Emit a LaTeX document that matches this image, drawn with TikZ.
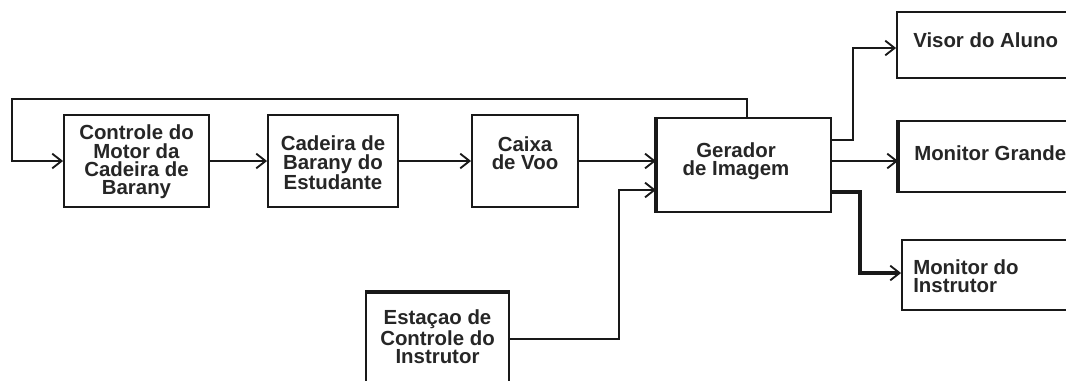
\documentclass[tikz,border=0pt]{standalone}
\usepackage{fontspec}
\setmainfont{Liberation Sans}
\usetikzlibrary{arrows.meta}
\begin{document}
\begin{tikzpicture}[x=0.75pt,y=-0.75pt,
  box/.style={draw=black!90,line width=1.4pt,rectangle,inner sep=0pt},
  lbl/.style={inner sep=0pt,font=\fontsize{15.3}{13.8}\selectfont\bfseries,text=black!85},
  conn/.style={draw=black!90,line width=1.4pt,-{Straight Barb[length=7pt,width=11pt,line width=1.4pt]}},
  thickedge/.style={draw=black!90,line width=2.4pt}]
\useasboundingbox (0,0) rectangle (1066,380);
% boxes
\node[box,minimum width={145*0.75pt},minimum height={92*0.75pt}] (b1) at (136.5,161) {};
\node[lbl,align=center] (b1t) at (136.5,162) {Controle do\\Motor da\\Cadeira de\\Barany};
\node[box,minimum width={130*0.75pt},minimum height={92*0.75pt}] (b2) at (333,161) {};
\node[lbl,align=center] (b2t) at (333,163) {Cadeira de\\Barany do\\Estudante};
\node[box,minimum width={106*0.75pt},minimum height={92*0.75pt}] (b3) at (525,161) {};
\node[lbl,align=center] (b3t) at (525,153) {Caixa\\de Voo};
\node[box,line width=1.7pt,minimum width={174*0.75pt},minimum height={94*0.75pt}] (gen) at (744,165) {};
\node[lbl,align=center] (gent) at (736,161) {Gerador\\de Imagem};
\node[box,minimum width={220*0.75pt},minimum height={66*0.75pt}] (visor) at (1007,45) {};
\node[lbl,anchor=west] (visort) at (913,40) {Visor do Aluno};
\node[box,minimum width={220*0.75pt},minimum height={71*0.75pt}] (mgr) at (1009,156.5) {};
\node[lbl,anchor=west] (mgrt) at (914,153) {Monitor Grande};
\node[box,minimum width={220*0.75pt},minimum height={70*0.75pt}] (minst) at (1012,275) {};
\node[lbl,anchor=west,align=left] (minstt) at (913,276) {Monitor do\\Instrutor};
\node[box,minimum width={143*0.75pt},minimum height={102*0.75pt}] (est) at (437.5,344) {};
\node[lbl,align=center] (estt) at (437.5,337) {Estaçao de\\Controle do\\Instrutor};
% thicker edges
\draw[thickedge] (gen.north west) -- (gen.south west);
\draw[thickedge] (mgr.north west) -- (mgr.south west);
\draw[thickedge] (est.north west) -- (est.north east);
% coordinates
\coordinate (fbT) at (747,99);
\coordinate (fbL) at (12,99);
\coordinate (ejA) at (619,339);
\coordinate (ejB) at (619,190);
\coordinate (v1) at (853,140);
\coordinate (v2) at (853,48);
\coordinate (m1) at (860,161);
\coordinate (i1) at (860,192);
\coordinate (i2) at (860,273);
% connectors
\draw[conn] (gen.north -| fbT) -- (fbT) -- (fbL) |- (b1.west);
\draw[conn] (b1.east) -- (b1.east -| b2.west);
\draw[conn] (b2.east) -- (b2.east -| b3.west);
\draw[conn] (b3.east |- m1) -- (m1 -| gen.west);
\draw[conn] (est.east |- ejA) -- (ejA) -- (ejB) -- (ejB -| gen.west);
\draw[conn] (gen.east |- v1) -- (v1) -- (v2) -- (v2 -| visor.west);
\draw[conn] (gen.east |- m1) -- (m1 -| mgr.west);
\draw[conn,line width=2.6pt] (gen.east |- i1) -- (i1) -- (i2) -- (i2 -| minst.west);
\end{tikzpicture}
\end{document}
